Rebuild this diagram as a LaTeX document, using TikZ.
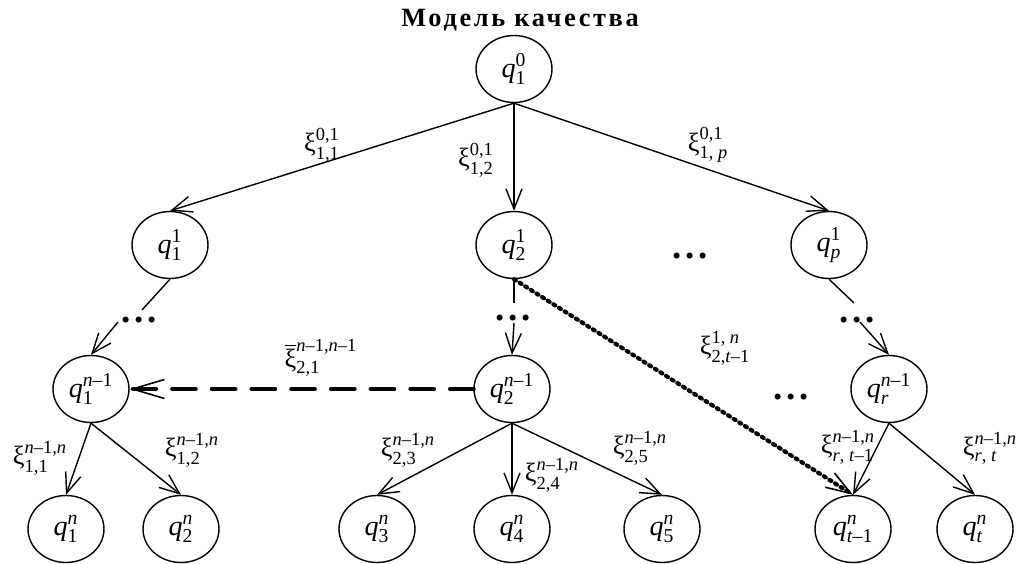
\documentclass[tikz,border=0pt]{standalone}
\usepackage{fontspec}
\setmainfont{Liberation Serif}
\usepackage{amsmath}
\usetikzlibrary{arrows.meta, shapes.geometric}

\newcommand{\qv}[2]{$\text{\itshape q}^{\text{#1}}_{\text{#2}}$}
\newcommand{\xv}[2]{$\text{ξ}^{\text{#1}}_{\text{#2}}$}
\newcommand{\nn}{\textit{n}}
\newcommand{\ddd}{.\kern2.2pt.\kern2.2pt.}

\begin{document}
\begin{tikzpicture}[
    x=0.02cm, y=-0.02cm,
    qnode/.style={draw, ellipse, line width=0.8pt, minimum width=1.52cm, minimum height=1.34cm, inner sep=0pt, font=\fontsize{16}{18}\selectfont},
    lbl/.style={inner sep=0pt, font=\fontsize{15}{18}\selectfont},
    gap/.style={inner sep=0pt, anchor=base, font=\fontsize{21}{21}\selectfont\bfseries},
    edge/.style={line width=0.8pt, -{Straight Barb[length=4mm, width=3.2mm, line width=0.8pt]}},
    link/.style={line width=0.8pt},
    jump/.style={line width=2.8pt, line cap=round, dash pattern=on 13pt off 9.6pt, -{Straight Barb[length=6.4mm, width=3.8mm, line width=0.9pt]}},
    skip/.style={line width=2.4pt, line cap=round, dash pattern=on 1.2pt off 2.6pt, -{Straight Barb[length=5mm, width=3.4mm, line width=0.9pt]}}
]
    \useasboundingbox (0,0) rectangle (1022,564);

    \node[font=\fontsize{15}{17}\selectfont\bfseries\addfontfeature{LetterSpace=10}] (title) at (520,20) {Модель качества};

    % levels 0 and 1
    \node[qnode] (q10) at (514,69)  {\qv{0}{1}};
    \node[qnode] (q11) at (170,245) {\qv{1}{1}};
    \node[qnode] (q21) at (514,245) {\qv{1}{2}};
    \node[qnode] (qp1) at (829,245) {\qv{1}{\textit{p}}};

    % level n-1
    \node[qnode] (q1m) at (91,389)  {\qv{\nn–1}{1}};
    \node[qnode] (q2m) at (512,389) {\qv{\nn–1}{2}};
    \node[qnode] (qrm) at (889,389) {\qv{\nn–1}{\textit{r}}};

    % level n
    \node[qnode] (q1n) at (66,529)  {\qv{\nn}{1}};
    \node[qnode] (q2n) at (181,529) {\qv{\nn}{2}};
    \node[qnode] (q3n) at (377,529) {\qv{\nn}{3}};
    \node[qnode] (q4n) at (512,529) {\qv{\nn}{4}};
    \node[qnode] (q5n) at (662,529) {\qv{\nn}{5}};
    \node[qnode] (qt1n) at (853,529) {\qv{\nn}{\textit{t}–1}};
    \node[qnode] (qtn) at (975,529) {\qv{\nn}{\textit{t}}};

    % omitted levels
    \node[gap] (d1) at (139,323) {\ddd};
    \node[gap] (d2) at (513,321) {\ddd};
    \node[gap] (d3) at (857,323) {\ddd};
    \node[gap] (d4) at (690,259) {\ddd};
    \node[gap] (d5) at (791,400) {\ddd};

    \coordinate (a1) at (142,310);
    \coordinate (b1) at (118,322);
    \coordinate (a2) at (514,303);
    \coordinate (b2) at (514,323);
    \coordinate (a3) at (854,303);
    \coordinate (b3) at (860,322);

    \draw[edge] (q10.south) -- (q11.north);
    \draw[edge] (q10.south) -- (q21.north);
    \draw[edge] (q10.south) -- (qp1.north);

    \draw[link] (q11.south) -- (a1);
    \draw[edge] (b1) -- (q1m.north);
    \draw[link] (q21.south) -- (a2);
    \draw[edge] (b2) -- (q2m.north);
    \draw[link] (qp1.south) -- (a3);
    \draw[edge] (b3) -- (qrm.north);

    \draw[edge] (q1m.south) -- (q1n.north);
    \draw[edge] (q1m.south) -- (q2n.north);
    \draw[edge] (q2m.south) -- (q3n.north);
    \draw[edge] (q2m.south) -- (q4n.north);
    \draw[edge] (q2m.south) -- (q5n.north);
    \draw[edge] (qrm.south) -- (qt1n.north);
    \draw[edge] (qrm.south) -- (qtn.north);

    \draw[jump] (q2m.west) -- (q1m.east);
    \draw[skip] (q21.south) -- (qt1n.north);

    % arc labels
    \node[lbl] (x01) at (322,145) {\xv{0,1}{1,1}};
    \node[lbl] (x02) at (476,160) {\xv{0,1}{1,2}};
    \node[lbl] (x0p) at (708,145) {\xv{0,1}{1, \textit{p}}};
    \node[lbl] (xbar) at (321,358) {$\overline{\text{ξ}}^{\text{\nn–1,\nn–1}}_{\text{2,1}}$};
    \node[lbl] (x1t) at (725,348) {\xv{1, \nn}{2,\textit{t}–1}};
    \node[lbl] (x11) at (40,458)  {\xv{\nn–1,\nn}{1,1}};
    \node[lbl] (x12) at (192,450) {\xv{\nn–1,\nn}{1,2}};
    \node[lbl] (x23) at (408,450) {\xv{\nn–1,\nn}{2,3}};
    \node[lbl] (x24) at (552,475) {\xv{\nn–1,\nn}{2,4}};
    \node[lbl] (x25) at (640,448) {\xv{\nn–1,\nn}{2,5}};
    \node[lbl] (xrt1) at (848,447) {\xv{\nn–1,\nn}{\textit{r}, \textit{t}–1}};
    \node[lbl] (xrt) at (990,448) {\xv{\nn–1,\nn}{\textit{r}, \textit{t}}};
\end{tikzpicture}
\end{document}
